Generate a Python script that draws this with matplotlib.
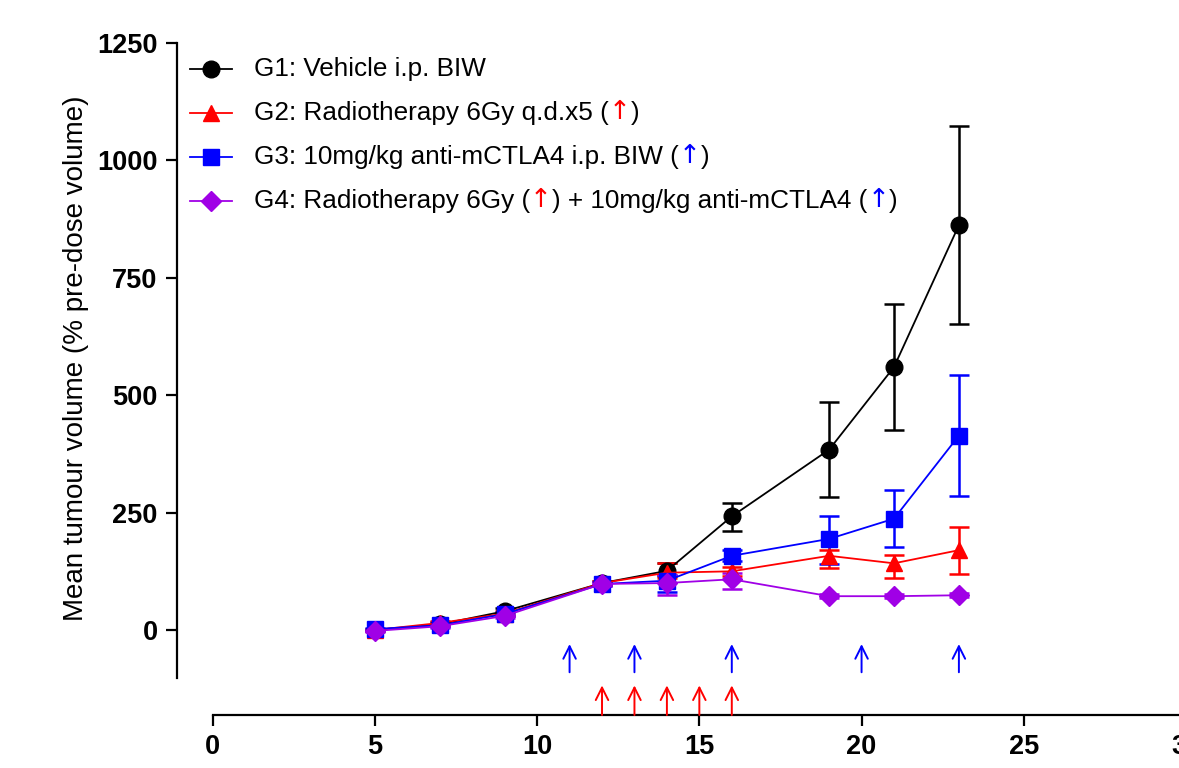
import numpy as np
import matplotlib
matplotlib.use('Agg')
import matplotlib.pyplot as plt
from matplotlib.lines import Line2D

plt.rcParams['font.family'] = ['Liberation Sans', 'DejaVu Sans']

# data
days = [5, 7, 9, 12, 14, 16, 19, 21, 23]

g1 = [0, 12, 40, 100, 126, 242, 384, 560, 862]
g1_lo = [3, 4, 6, 5, 12, 31, 100, 134, 210]
g1_hi = [3, 4, 6, 5, 17, 28, 101, 134, 212]

g2 = [0, 15, 35, 100, 122, 125, 158, 142, 170]
g2_lo = [3, 4, 5, 5, 12, 10, 26, 32, 50]
g2_hi = [3, 4, 5, 5, 20, 10, 12, 18, 50]

g3 = [2, 10, 34, 98, 105, 158, 194, 237, 414]
g3_lo = [3, 4, 5, 5, 25, 12, 54, 61, 128]
g3_hi = [3, 4, 5, 5, 12, 12, 49, 61, 129]

g4 = [-2, 8, 30, 98, 100, 108, 72, 72, 74]
g4_lo = [3, 4, 5, 5, 25, 21, 4, 4, 4]
g4_hi = [3, 4, 5, 5, 18, 14, 4, 4, 4]

blue_doses = [11, 13, 16, 20, 23]
red_doses = [12, 13, 14, 15, 16]

purple = '#a000e6'

groups = [
    (g1, g1_lo, g1_hi, 'black', 'o', 12,
     [("G1: Vehicle i.p. BIW", 'black')]),
    (g2, g2_lo, g2_hi, 'red', '^', 12,
     [("G2: Radiotherapy 6Gy q.d.x5 (", 'black'), ("\u2191", 'red'), (")", 'black')]),
    (g3, g3_lo, g3_hi, 'blue', 's', 11,
     [("G3: 10mg/kg anti-mCTLA4 i.p. BIW (", 'black'), ("\u2191", 'blue'), (")", 'black')]),
    (g4, g4_lo, g4_hi, purple, 'D', 10,
     [("G4: Radiotherapy 6Gy (", 'black'), ("\u2191", 'red'),
      (") + 10mg/kg anti-mCTLA4 (", 'black'), ("\u2191", 'blue'), (")", 'black')]),
]

fig = plt.figure(figsize=(11.79, 7.68), dpi=100)
ax = fig.add_axes([177 / 1179, 53 / 768, (1186 - 177) / 1179, 672 / 768])

for vals, lo, hi, col, mk, ms, parts in groups:
    ax.errorbar(days, vals, yerr=[lo, hi], color=col, marker=mk, markersize=ms,
                lw=1.3, elinewidth=1.8, capsize=7, capthick=1.8, clip_on=False)

# dosing arrows
arrow_style = '->,head_length=0.5,head_width=0.25'
for d in blue_doses:
    ax.annotate('', xy=(d, -30), xytext=(d, -90),
                arrowprops=dict(arrowstyle=arrow_style, color='blue', lw=1.4,
                                mutation_scale=18, shrinkA=0, shrinkB=0))
for d in red_doses:
    ax.annotate('', xy=(d, -118), xytext=(d, -181),
                arrowprops=dict(arrowstyle=arrow_style, color='red', lw=1.4,
                                mutation_scale=18, shrinkA=0, shrinkB=0))

ax.set_xlim(-1.1, 30)
ax.set_ylim(-181, 1250)
ax.spines['top'].set_visible(False)
ax.spines['right'].set_visible(False)
ax.spines['left'].set_bounds(-102, 1250)
ax.spines['bottom'].set_bounds(0, 30)
for s in ['left', 'bottom']:
    ax.spines[s].set_linewidth(1.6)

ax.set_yticks([0, 250, 500, 750, 1000, 1250])
ax.set_xticks([0, 5, 10, 15, 20, 25, 30])
ax.tick_params(direction='out', length=8, width=1.6, labelsize=19.5, pad=6)
for lab in ax.get_xticklabels() + ax.get_yticklabels():
    lab.set_fontweight('bold')

ax.set_ylabel('Mean tumour volume (% pre-dose volume)', fontsize=20)
ax.yaxis.set_label_coords(-0.087, 0.531)

# legend drawn by hand so the arrows can be coloured
row_y = [69, 113, 157, 201]
for (vals, lo, hi, col, mk, ms, parts), ry in zip(groups, row_y):
    yf = 1 - ry / 768
    fig.add_artist(Line2D([190 / 1179, 232 / 1179], [yf, yf], color=col, lw=1.3,
                          transform=fig.transFigure))
    fig.add_artist(Line2D([211 / 1179], [yf], color=col, marker=mk, markersize=ms,
                          transform=fig.transFigure))
    prev = fig.text(254 / 1179, yf, parts[0][0], color=parts[0][1],
                    fontsize=18.8, va='center', ha='left')
    for txt, c in parts[1:]:
        fam = ['DejaVu Sans'] if txt == "\u2191" else ['Liberation Sans']
        prev = ax.annotate(txt, xy=(1, 0), xycoords=prev, va='bottom', ha='left',
                           color=c, fontsize=18.8, family=fam,
                           annotation_clip=False)

fig.savefig('out.png', dpi=100)
